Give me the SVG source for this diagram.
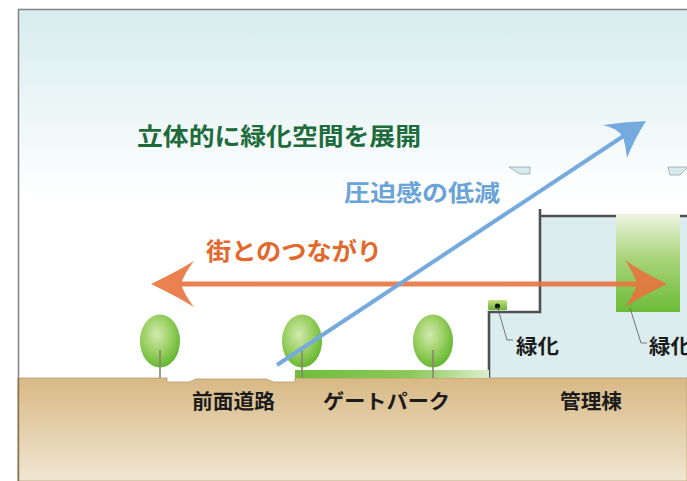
<svg xmlns="http://www.w3.org/2000/svg" width="687" height="481" viewBox="0 0 687 481">
  <defs>
    <linearGradient id="sky" x1="0" y1="10" x2="0" y2="200" gradientUnits="userSpaceOnUse">
      <stop offset="0" stop-color="#d7ecee"/>
      <stop offset="1" stop-color="#ffffff"/>
    </linearGradient>
    <linearGradient id="soil" x1="0" y1="378" x2="0" y2="481" gradientUnits="userSpaceOnUse">
      <stop offset="0" stop-color="#d8b985"/>
      <stop offset="1" stop-color="#f0e6d2"/>
    </linearGradient>
    <linearGradient id="lawn" x1="295" y1="0" x2="490" y2="0" gradientUnits="userSpaceOnUse">
      <stop offset="0" stop-color="#6fbd3a"/>
      <stop offset="0.6" stop-color="#8cc95a"/>
      <stop offset="1" stop-color="#dcefd0"/>
    </linearGradient>
    <linearGradient id="wall-green" x1="0" y1="214" x2="0" y2="312" gradientUnits="userSpaceOnUse">
      <stop offset="0" stop-color="#eef4e2"/>
      <stop offset="0.45" stop-color="#a9d47a"/>
      <stop offset="1" stop-color="#6cbc38"/>
    </linearGradient>
    <radialGradient id="leaf" cx="0.42" cy="0.38" r="0.62">
      <stop offset="0" stop-color="#d2eab0"/>
      <stop offset="0.55" stop-color="#9cd064"/>
      <stop offset="1" stop-color="#66b834"/>
    </radialGradient>
    <linearGradient id="planter" x1="0" y1="300" x2="0" y2="311" gradientUnits="userSpaceOnUse">
      <stop offset="0" stop-color="#c6e27a"/>
      <stop offset="1" stop-color="#5fae2e"/>
    </linearGradient>
    <g id="tree">
      <ellipse cx="0" cy="0" rx="20" ry="26.5" fill="url(#leaf)"/>
      <line x1="0" y1="9" x2="0" y2="37" stroke="#8c826c" stroke-width="1.6"/>
    </g>
  </defs>
  <style>
    .lbl { font-family: "Noto Sans CJK JP", "Noto Sans", sans-serif; font-weight: 700; }
    .dark { fill: #1c1c1c; font-size: 20px; }
    .leader { fill: none; stroke: #666; stroke-width: 0.9; }
    .wall { fill: none; stroke: #505050; stroke-width: 2.6; }
    .eave { fill: #d5ebee; stroke: #9aa6a8; stroke-width: 0.8; }
  </style>

  <!-- sky and frame -->
  <rect x="18" y="10" width="669" height="471" fill="url(#sky)"/>
  <path d="M18.5,481 V9.5 H687" fill="none" stroke="#808080" stroke-width="1.5"/>

  <!-- eaves of the upper floors -->
  <polygon class="eave" points="509,167 530,167 530,174 520,174"/>
  <polygon class="eave" points="668,167 687,167 687,168 680,175 670,175"/>

  <!-- management building -->
  <g id="building">
    <path d="M489,378 V312 H540 V216 H687 V378 Z" fill="#dcedf0"/>
    <rect x="616" y="214" width="64" height="98" fill="url(#wall-green)"/>
    <path class="wall" d="M489,378 V312 H540 V209"/>
    <path class="wall" d="M540,216 H616 M680,216 H687"/>
    <rect x="488" y="300" width="19" height="10" rx="1.5" fill="url(#planter)"/>
    <circle cx="497.5" cy="306" r="2.6" fill="#111"/>
  </g>

  <!-- ground with the front road -->
  <g id="ground">
    <path d="M18,378 H167 V382 H189 L196,379 H266 L274,382 H295 V378 H687 V481 H18 Z" fill="url(#soil)" stroke="#b89d70" stroke-width="0.8"/>
    <rect x="295" y="370" width="194" height="8" fill="url(#lawn)"/>
    <line x1="18.5" y1="378" x2="18.5" y2="481" stroke="#8b7350" stroke-width="1.5"/>
  </g>

  <!-- trees -->
  <g id="trees">
    <use href="#tree" x="160" y="341"/>
    <use href="#tree" x="302" y="341"/>
    <use href="#tree" x="433" y="341"/>
  </g>

  <!-- arrows -->
  <g id="connectors">
    <g id="arrow-street" fill="#e8743e" opacity="0.9">
      <rect x="180" y="281.5" width="460" height="5"/>
      <path d="M151,284 Q176,272 194,261 Q184,274 181,284 Q184,294 194,307 Q176,296 151,284 Z"/>
      <path d="M667,284 Q642,272 625,260 Q634,274 637,284 Q634,294 625,307 Q642,296 667,284 Z"/>
    </g>
    <g id="arrow-open" fill="#75aadf">
      <line x1="277" y1="365" x2="625" y2="135" stroke="#75aadf" stroke-width="4"/>
      <path d="M646,121 Q624,122 603,125 Q617,128 623,137 Q626,147 627,158 Q635,138 646,121 Z"/>
    </g>
  </g>

  <!-- leaders to greenery labels -->
  <path class="leader" d="M497.5,307 L507,340 H513"/>
  <path class="leader" d="M630,308 L641,343 H647"/>

  <!-- labels -->
  <text class="lbl" x="137" y="145" font-size="24" fill="#1e6b3c" textLength="284" lengthAdjust="spacingAndGlyphs">立体的に緑化空間を展開</text>
  <text class="lbl" x="344" y="201" font-size="23" fill="#6aa3d8" textLength="156" lengthAdjust="spacingAndGlyphs">圧迫感の低減</text>
  <text class="lbl" x="206" y="260" font-size="24" fill="#e2682c" textLength="176" lengthAdjust="spacingAndGlyphs">街とのつながり</text>
  <text class="lbl dark" x="192" y="409" textLength="83" lengthAdjust="spacingAndGlyphs">前面道路</text>
  <text class="lbl dark" x="323" y="409" textLength="127" lengthAdjust="spacingAndGlyphs">ゲートパーク</text>
  <text class="lbl dark" x="560" y="409" textLength="62" lengthAdjust="spacingAndGlyphs">管理棟</text>
  <text class="lbl dark" x="516" y="354" font-size="21" textLength="43" lengthAdjust="spacingAndGlyphs">緑化</text>
  <text class="lbl dark" x="649" y="354" font-size="21" textLength="43" lengthAdjust="spacingAndGlyphs">緑化</text>
</svg>
